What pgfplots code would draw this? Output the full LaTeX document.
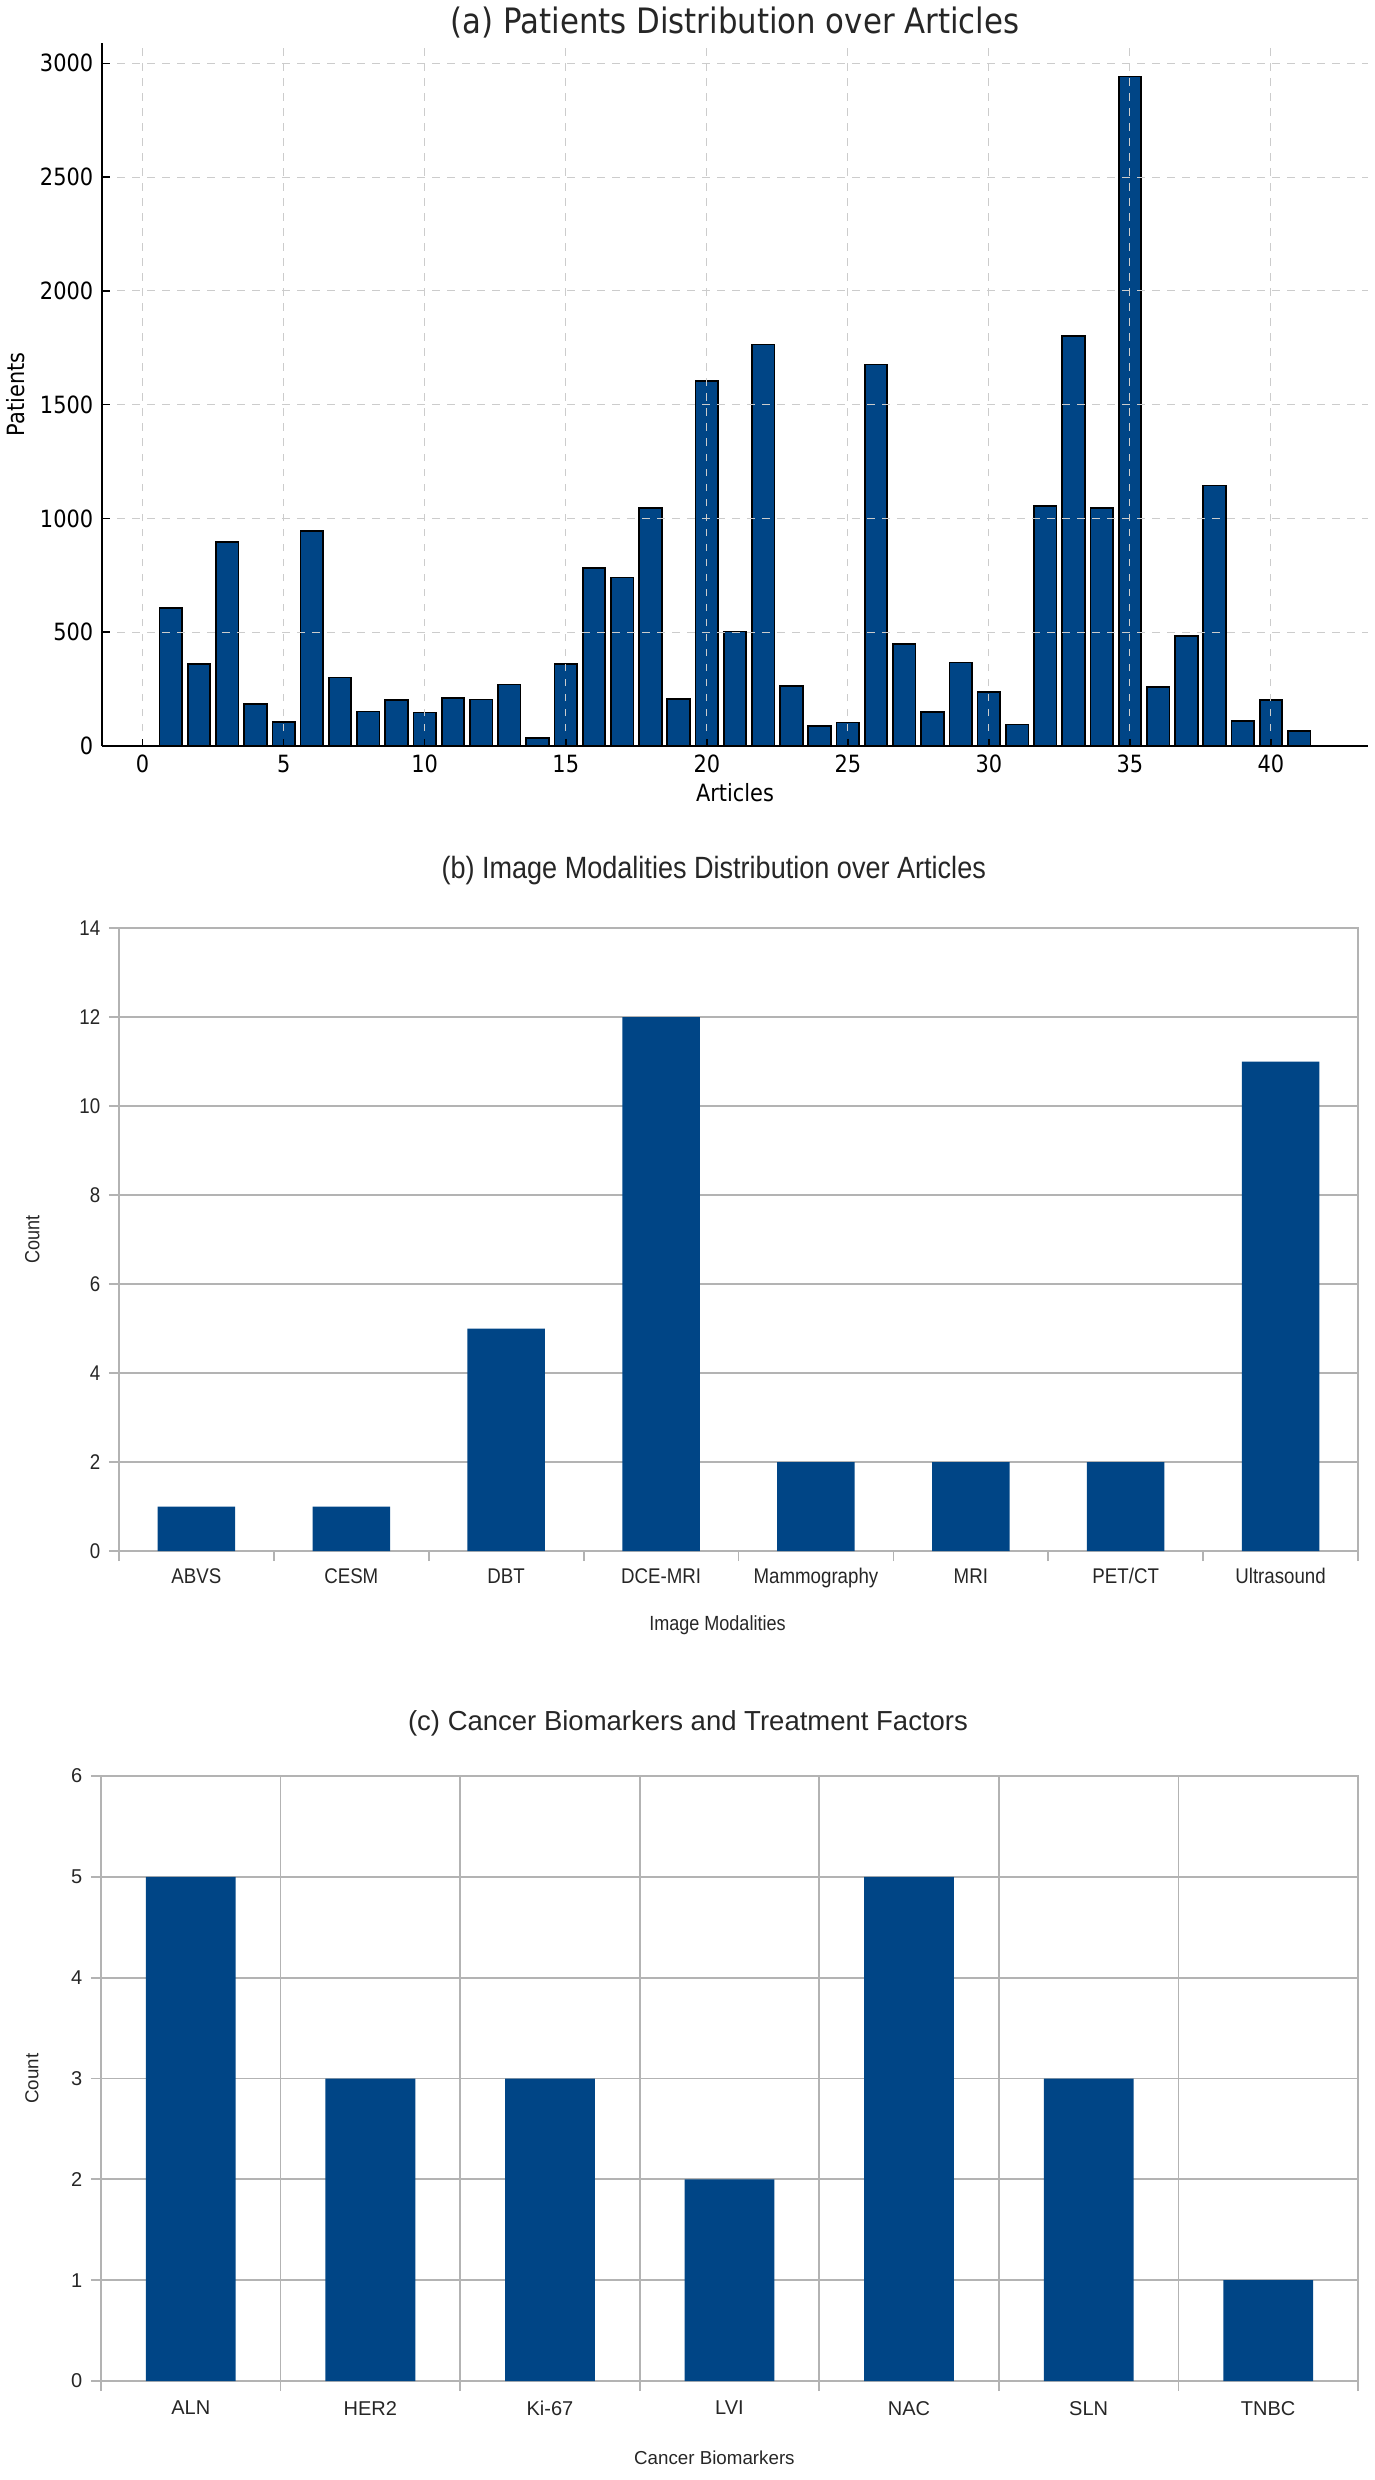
\documentclass[border=0pt]{standalone}
\usepackage{pgfplots}
\pgfplotsset{compat=1.18}
\usepackage{fontspec}
\setmainfont{Liberation Sans}
\newfontfamily\dejavu{DejaVu Sans}[FakeStretch=0.88]
\newfontfamily\libnarrow{Liberation Sans}[FakeStretch=0.88]
\definecolor{barblue}{HTML}{004586}
\definecolor{loline}{HTML}{B3B3B3}

\pgfplotstableread{
x y
1 605
2 361
3 896
4 185
5 106
6 946
7 301
8 152
9 201
10 147
11 210
12 204
13 270
14 35
15 359
16 783
17 740
18 1045
19 208
20 1603
21 503
22 1764
23 265
24 88
25 103
26 1676
27 447
28 151
29 367
30 236
31 94
32 1053
33 1800
34 1045
35 2942
36 260
37 482
38 1145
39 110
40 201
41 66
}\patients

\begin{document}
\begin{tikzpicture}
\useasboundingbox (0,0) rectangle (549.6pt,-992pt);

% (a) patients per article
\begin{axis}[
  at={(40.8pt,-298.4pt)}, anchor=south west,
  width=506.4pt, height=281.2pt, scale only axis,
  xmin=-1.44, xmax=43.44, ymin=0, ymax=3089,
  axis x line=bottom, axis y line=left,
  axis line style={-, black, line width=0.7pt},
  tick align=inside, major tick length=3pt,
  tick style={black, line width=0.6pt},
  xtick={0,5,...,40}, ytick={0,500,...,3000},
  grid=major, grid style={dashed, gray!40, line width=0.4pt},
  axis on top,
  ticklabel style={font=\dejavu\fontsize{9.5}{11}\selectfont},
  /pgf/number format/assume math mode=true,
  /pgf/number format/1000 sep={},
  title={(a) Patients Distribution over Articles},
  title style={font=\dejavu\fontsize{14}{16}\selectfont, text=black!85, at={(axis description cs:0.5,1.029)}, anchor=center, yshift=-6pt},
  xlabel={Articles}, ylabel={Patients},
  label style={font=\dejavu\fontsize{9.5}{11}\selectfont},
  xlabel style={at={(axis description cs:0.5,-0.067)}, anchor=center},
  ylabel style={at={(axis description cs:-0.068,0.5)}, anchor=center},
]
\addplot[ybar, bar width=0.8, fill=barblue, draw=black, line width=0.7pt] table[x=x, y=y] {\patients};
\end{axis}

% (b) image modalities
\begin{axis}[
  at={(47.6pt,-620.4pt)}, anchor=south west,
  width=495.6pt, height=249.2pt, scale only axis,
  xmin=-0.5, xmax=7.5, ymin=0, ymax=14,
  axis line style={loline, line width=0.7pt},
  xtick={-0.5,0.5,...,7.5}, xticklabels={,,,,,,,,},
  extra x ticks={0,1,2,3,4,5,6,7},
  extra x tick labels={ABVS,CESM,DBT,DCE-MRI,Mammography,MRI,PET/CT,Ultrasound},
  extra x tick style={grid=none, major tick length=0pt},
  xticklabel style={yshift=-3.5pt},
  ytick={0,2,...,14},
  tick pos=left, tick align=outside, major tick length=4pt,
  tick style={loline, line width=0.7pt},
  ymajorgrids, grid style={loline, line width=0.7pt},
  /pgf/number format/assume math mode=true,
  ticklabel style={font=\libnarrow\fontsize{8.5}{10}\selectfont, text=black!85},
  title={(b) Image Modalities Distribution over Articles},
  title style={font=\libnarrow\fontsize{12.3}{14}\selectfont, text=black!85, at={(axis description cs:0.48,1.0915)}, anchor=center, yshift=-6pt},
  xlabel={Image Modalities}, ylabel={Count},
  label style={font=\libnarrow\fontsize{8.2}{10}\selectfont, text=black!85},
  xlabel style={at={(axis description cs:0.483,-0.119)}, anchor=center},
  ylabel style={at={(axis description cs:-0.070,0.5)}, anchor=center},
]
\addplot[ybar, bar width=0.5, fill=barblue, draw=none] coordinates {
  (0,1) (1,1) (2,5) (3,12) (4,2) (5,2) (6,2) (7,11)
};
\end{axis}

% (c) biomarkers
\begin{axis}[
  at={(40.4pt,-952.4pt)}, anchor=south west,
  width=502.8pt, height=242pt, scale only axis,
  xmin=-0.5, xmax=6.5, ymin=0, ymax=6,
  axis line style={loline, line width=0.7pt},
  xtick={-0.5,0.5,...,6.5}, xticklabels={,,,,,,,},
  extra x ticks={0,1,2,3,4,5,6},
  extra x tick labels={ALN,HER2,Ki-67,LVI,NAC,SLN,TNBC},
  extra x tick style={grid=none, major tick length=0pt},
  xticklabel style={yshift=-4.5pt},
  ytick={0,1,...,6},
  tick pos=left, tick align=outside, major tick length=4pt,
  tick style={loline, line width=0.7pt},
  grid=major, grid style={loline, line width=0.7pt},
  /pgf/number format/assume math mode=true,
  ticklabel style={font=\fontsize{8}{9}\selectfont, text=black!85},
  title={(c) Cancer Biomarkers and Treatment Factors},
  title style={font=\fontsize{11}{13}\selectfont, text=black!85, at={(axis description cs:0.467,1.0876)}, anchor=center, yshift=-6pt},
  xlabel={Cancer Biomarkers}, ylabel={Count},
  label style={font=\fontsize{7.5}{9}\selectfont, text=black!85},
  xlabel style={at={(axis description cs:0.488,-0.127)}, anchor=center},
  ylabel style={at={(axis description cs:-0.055,0.5)}, anchor=center},
]
\addplot[ybar, bar width=0.5, fill=barblue, draw=none] coordinates {
  (0,5) (1,3) (2,3) (3,2) (4,5) (5,3) (6,1)
};
\end{axis}
\end{tikzpicture}
\end{document}
